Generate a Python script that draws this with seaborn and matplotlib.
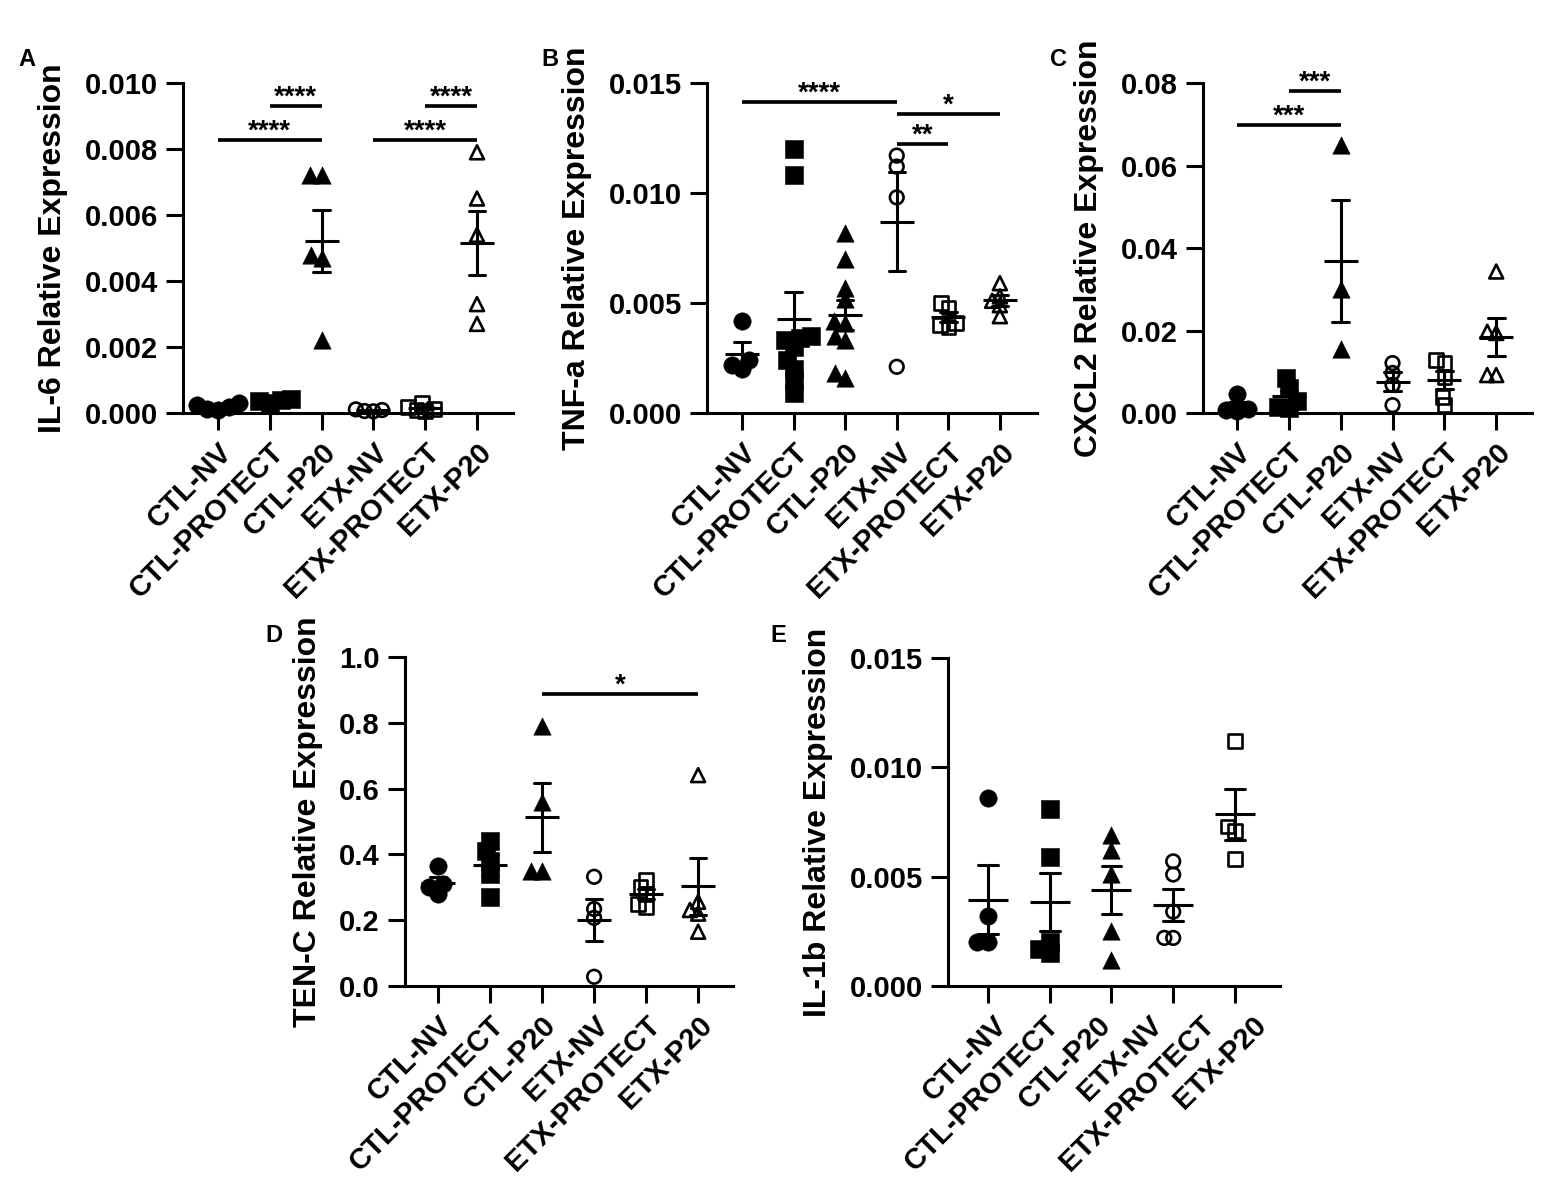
import numpy as np
import pandas as pd
import matplotlib
matplotlib.use('Agg')
import matplotlib.pyplot as plt
import seaborn as sns
from matplotlib.ticker import FormatStrFormatter
import warnings
warnings.filterwarnings('ignore')

# ── DATA ─────────────────────────────────────────────────────
GROUPS = ['CTL-NV', 'CTL-PROTECT', 'CTL-P20', 'ETX-NV', 'ETX-PROTECT', 'ETX-P20']

il6 = {
    'CTL-NV':      [0.00010, 0.00025, 0.00030, 0.00018, 0.00012],
    'CTL-PROTECT': [0.00038, 0.00042, 0.00035, 0.00030],
    'CTL-P20':     [0.0072, 0.0072, 0.0048, 0.0047, 0.0022],
    'ETX-NV':      [0.00006, 0.00009, 0.00011, 0.00005],
    'ETX-PROTECT': [0.00030, 0.00012, 0.00018, 0.00006, 0.00010],
    'ETX-P20':     [0.0079, 0.0065, 0.0054, 0.0033, 0.0027],
}
tnfa = {
    'CTL-NV':      [0.0042, 0.0020, 0.0022, 0.0024],
    'CTL-PROTECT': [0.0120, 0.0108, 0.0035, 0.0034, 0.0033, 0.0030, 0.0024, 0.0020, 0.0015, 0.0009],
    'CTL-P20':     [0.0082, 0.0070, 0.0057, 0.0052, 0.0042, 0.0041, 0.0035, 0.0033, 0.0018, 0.0016],
    'ETX-NV':      [0.0117, 0.0112, 0.0098, 0.0021],
    'ETX-PROTECT': [0.0050, 0.0048, 0.0041, 0.0040, 0.0039],
    'ETX-P20':     [0.0059, 0.0053, 0.0051, 0.0049, 0.0044],
}
cxcl2 = {
    'CTL-NV':      [0.0046, 0.0008, 0.0010, 0.0006],
    'CTL-PROTECT': [0.0085, 0.0060, 0.0030, 0.0015, 0.0012],
    'CTL-P20':     [0.0650, 0.0300, 0.0155],
    'ETX-NV':      [0.0121, 0.0097, 0.0068, 0.0019],
    'ETX-PROTECT': [0.0128, 0.0121, 0.0088, 0.0039, 0.0019],
    'ETX-P20':     [0.0343, 0.0197, 0.0194, 0.0092, 0.0092],
}
tenc = {
    'CTL-NV':      [0.365, 0.280, 0.300, 0.310],
    'CTL-PROTECT': [0.44, 0.41, 0.38, 0.34, 0.27],
    'CTL-P20':     [0.79, 0.56, 0.35, 0.35],
    'ETX-NV':      [0.332, 0.234, 0.207, 0.028],
    'ETX-PROTECT': [0.322, 0.300, 0.280, 0.240, 0.250],
    'ETX-P20':     [0.641, 0.256, 0.231, 0.220, 0.165],
}
il1b = {
    'CTL-NV':      [0.0086, 0.0032, 0.0020, 0.0020],
    'CTL-PROTECT': [0.0081, 0.0059, 0.0015, 0.0017, 0.0020],
    'CTL-P20':     [0.0069, 0.0062, 0.0051, 0.0025, 0.0012],
    'ETX-NV':      [0.0057, 0.0051, 0.0034, 0.0022, 0.0022],
    'ETX-PROTECT': [0.0112, 0.0073, 0.0071, 0.0058],
}

# significance brackets: (from group, to group, height, stars)
sig_il6 = [('CTL-PROTECT', 'CTL-P20', 0.00931, '****'), ('CTL-NV', 'CTL-P20', 0.00827, '****'),
           ('ETX-PROTECT', 'ETX-P20', 0.00931, '****'), ('ETX-NV', 'ETX-P20', 0.00827, '****')]
sig_tnfa = [('CTL-NV', 'ETX-NV', 0.01414, '****'), ('ETX-NV', 'ETX-P20', 0.01359, '*'),
            ('ETX-NV', 'ETX-PROTECT', 0.01223, '**')]
sig_cxcl2 = [('CTL-PROTECT', 'CTL-P20', 0.0781, '***'), ('CTL-NV', 'CTL-P20', 0.0698, '***')]
sig_tenc = [('CTL-P20', 'ETX-P20', 0.887, '*')]

# ── STYLE ────────────────────────────────────────────────────
sns.set_style('ticks', {'axes.edgecolor': 'black', 'xtick.color': 'black',
                        'ytick.color': 'black', 'text.color': 'black',
                        'axes.labelcolor': 'black'})
plt.rcParams['font.family'] = ['Liberation Sans', 'DejaVu Sans']
plt.rcParams['font.weight'] = 'bold'
plt.rcParams['axes.labelweight'] = 'bold'

# marker, filled, size (pt)
STYLE = {
    'CTL-NV':      ('o', True, 12.5),
    'CTL-PROTECT': ('s', True, 12.5),
    'CTL-P20':     ('^', True, 12.5),
    'ETX-NV':      ('o', False, 9.8),
    'ETX-PROTECT': ('s', False, 9.8),
    'ETX-P20':     ('^', False, 10.0),
}
LW = 2.2
FS = 21
SHRINK = 0.62   # swarm spacing uses a smaller marker, so dots overlap like Prism
swarms = []


def draw_panel(ax, values, ylim, yticks, fmt, ylabel, sig, xlim, label_pos=None):
    groups = list(values.keys())
    df = pd.DataFrame([(g, v) for g in groups for v in values[g]], columns=['group', 'value'])
    for g in groups:
        mk, filled, sz = STYLE[g]
        sub = df[df['group'] == g]
        n0 = len(ax.collections)
        sns.swarmplot(data=sub, x='group', y='value', order=groups, ax=ax,
                      marker=mk, size=sz * SHRINK, color='black',
                      linewidth=0, clip_on=False, zorder=3, warn_thresh=1)
        for coll in ax.collections[n0:]:
            if len(coll.get_offsets()):
                swarms.append((ax, coll, mk, filled, sz))

    ax.set_xlim(*xlim)
    bbox = ax.get_position()
    cat_pt = bbox.width * fig.get_figwidth() * 72 / (xlim[1] - xlim[0])
    sns.pointplot(data=df, x='group', y='value', order=groups, ax=ax, errorbar='se',
                  capsize=0.32, color='black', marker='_', markersize=cat_pt * 0.65,
                  markeredgewidth=LW, linestyle='none', err_kws={'linewidth': LW},
                  zorder=4)

    for a, b, y, txt in sig:
        i, j = groups.index(a), groups.index(b)
        ax.plot([i, j], [y, y], color='black', lw=LW * 1.2, solid_capstyle='butt', clip_on=False)
        ax.annotate(txt, xy=((i + j) / 2, y), xytext=(0, 1), textcoords='offset points',
                    ha='center', va='baseline', fontsize=20, fontweight='bold')

    ax.set_xlim(*xlim)
    ax.set_ylim(*ylim)
    ax.set_yticks(yticks)
    ax.yaxis.set_major_formatter(FormatStrFormatter(fmt))
    sns.despine(ax=ax)
    for s in ['left', 'bottom']:
        ax.spines[s].set_linewidth(LW)
    ax.tick_params(axis='both', which='major', length=12, width=LW, labelsize=FS, pad=6)
    ax.set_xticks(range(len(groups)))
    if label_pos is None:
        ax.set_xticklabels(groups, rotation=45, ha='right', rotation_mode='anchor',
                           fontsize=FS, fontweight='bold')
    else:
        # panel E: five groups drawn, six labels spread under them (as in the source)
        ax.set_xticklabels([''] * len(groups))
        ax.set_xticks(label_pos, labels=GROUPS, minor=True)
        ax.tick_params(axis='x', which='minor', length=0, pad=18)
        for t in ax.get_xticklabels(minor=True):
            t.set_rotation(45)
            t.set_ha('right')
            t.set_rotation_mode('anchor')
            t.set_fontsize(FS)
            t.set_fontweight('bold')
    ax.set_xlabel('')
    ax.set_ylabel(ylabel, fontsize=23, fontweight='bold', labelpad=12)


fig = plt.figure(figsize=(15.62, 11.96), dpi=100)
W, H = 1562, 1196


def px_axes(x0, x1, ytop, ybot):
    return fig.add_axes([x0 / W, 1 - ybot / H, (x1 - x0) / W, (ybot - ytop) / H])


axA = px_axes(183, 513, 83, 413)
axB = px_axes(707, 1037, 83, 413)
axC = px_axes(1203, 1532, 83, 413)
axD = px_axes(405, 733, 657, 986)
axE = px_axes(948, 1280, 658, 986)

draw_panel(axA, il6, (0, 0.010), np.arange(0, 0.0101, 0.002), '%.3f',
           'IL-6 Relative Expression', sig_il6, (-0.676, 5.695))
draw_panel(axB, tnfa, (0, 0.015), np.arange(0, 0.0151, 0.005), '%.3f',
           'TNF-a Relative Expression', sig_tnfa, (-0.68, 5.72))
draw_panel(axC, cxcl2, (0, 0.08), np.arange(0, 0.081, 0.02), '%.2f',
           'CXCL2 Relative Expression', sig_cxcl2, (-0.656, 5.69))
draw_panel(axD, tenc, (0, 1.0), np.arange(0, 1.01, 0.2), '%.1f',
           'TEN-C Relative Expression', sig_tenc, (-0.635, 5.67))
draw_panel(axE, il1b, (0, 0.015), np.arange(0, 0.0151, 0.005), '%.3f',
           'IL-1b Relative Expression', [], (-0.648, 4.73),
           label_pos=np.linspace(0.08, 4.27, 6))

for letter, (x, y) in {'A': (18, 60), 'B': (541, 60), 'C': (1050, 60),
                       'D': (265, 635), 'E': (770, 635)}.items():
    fig.text(x / W, 1 - y / H, letter, fontsize=17, fontweight='bold', va='center', ha='left')

# seaborn places the swarm (with the small spacing size) at draw time;
# then the placed dots are redrawn at full marker size
fig.canvas.draw()
for ax, coll, mk, filled, sz in swarms:
    xy = np.asarray(coll.get_offsets())
    coll.remove()
    ax.scatter(xy[:, 0], xy[:, 1], marker=mk, s=sz ** 2,
               facecolors='black' if filled else 'none', edgecolors='black',
               linewidths=0.4 if filled else 1.9, clip_on=False, zorder=3)

fig.savefig('out.png', dpi=100)
print("saved out.png")
